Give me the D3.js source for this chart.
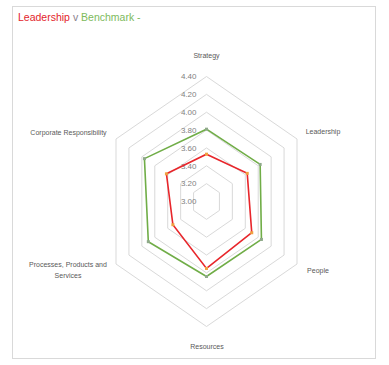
<!DOCTYPE html>
<html><head><meta charset="utf-8">
<script src="https://cdn.jsdelivr.net/npm/d3@7/dist/d3.min.js"></script>
<style>
html,body{margin:0;padding:0;background:#fff;}
svg{display:block;}
text{font-family:"Liberation Sans Narrow","Liberation Sans",Arial,sans-serif;}
</style></head>
<body>
<svg id="c" width="389" height="365"></svg>
<script>
const categories = ["Strategy","Leadership","People","Resources","Processes, Products and Services","Corporate Responsibility"];
const leadership = [3.53, 3.63, 3.70, 3.75, 3.52, 3.62];
const benchmark  = [3.81, 3.83, 3.85, 3.84, 3.90, 3.96];
const tickValues = [3.00, 3.20, 3.40, 3.60, 3.80, 4.00, 4.20, 4.40];

const svg = d3.select("#c");
const cx = 206.5, cy = 201.5, R = 125, kx = 0.836;
const r = d3.scaleLinear().domain([3.0, 4.4]).range([0, R]);
const ang = d3.scalePoint().domain(d3.range(categories.length)).range([0, 2*Math.PI*(categories.length-1)/categories.length]);
const px = (i, v) => cx + r(v) * Math.sin(ang(i)) * kx;
const py = (i, v) => cy - r(v) * Math.cos(ang(i));

// border
svg.append("rect").attr("x",12.5).attr("y",6.5).attr("width",363).attr("height",352)
  .attr("fill","none").attr("stroke","#d9d9d9").attr("stroke-width",1);

// title
const t = svg.append("text").attr("x",18).attr("y",21).attr("font-size",10.5);
t.append("tspan").attr("fill","#e3242b").text("Leadership");
t.append("tspan").attr("fill","#8a7f8f").text(" v ");
t.append("tspan").attr("fill","#7dba5c").text("Benchmark -");

// grid rings
const line = d3.line().x(d=>d[0]).y(d=>d[1]).curve(d3.curveLinearClosed);
tickValues.slice(1).forEach(tv => {
  svg.append("path")
    .attr("d", line(categories.map((c,i)=>[px(i,tv), py(i,tv)])))
    .attr("fill","none").attr("stroke","#d9d9d9").attr("stroke-width",1);
});

// tick labels
svg.selectAll(".tick").data(tickValues).enter().append("text")
  .attr("x", cx-10).attr("y", d=>cy - r(d)).attr("dy","0.35em")
  .attr("text-anchor","end").attr("font-size",8).attr("fill","#7f7f7f")
  .text(d=>d3.format(".2f")(d));

// series
function series(vals, color, mcolor){
  svg.append("path")
    .attr("d", line(vals.map((v,i)=>[px(i,v), py(i,v)])))
    .attr("fill","none").attr("stroke",color).attr("stroke-width",1.6).attr("stroke-linejoin","miter");
  svg.selectAll(null).data(vals).enter().append("rect")
    .attr("x",(d,i)=>px(i,d)-1.5).attr("y",(d,i)=>py(i,d)-1.5)
    .attr("width",3).attr("height",3).attr("fill",mcolor);
}
series(benchmark, "#70ad47", "#8fa98a");
series(leadership, "#e8262b", "#f0a040");

// category labels
const labelPos = [
  {x:206.5, y:56, a:"middle"},
  {x:323, y:132, a:"middle"},
  {x:318, y:271, a:"middle"},
  {x:207, y:347, a:"middle"},
  {x:68, y:265, a:"middle"},
  {x:68.5, y:133, a:"middle"}
];
categories.forEach((c,i)=>{
  const lp = labelPos[i];
  const tx = svg.append("text").attr("x",lp.x).attr("y",lp.y).attr("dy","0.35em")
    .attr("text-anchor",lp.a).attr("font-size",7).attr("fill","#595959");
  if (c === "Processes, Products and Services") {
    tx.append("tspan").attr("x",lp.x).text("Processes, Products and");
    tx.append("tspan").attr("x",lp.x).attr("dy","1.55em").text("Services");
  } else tx.text(c);
});
</script>
</body></html>
